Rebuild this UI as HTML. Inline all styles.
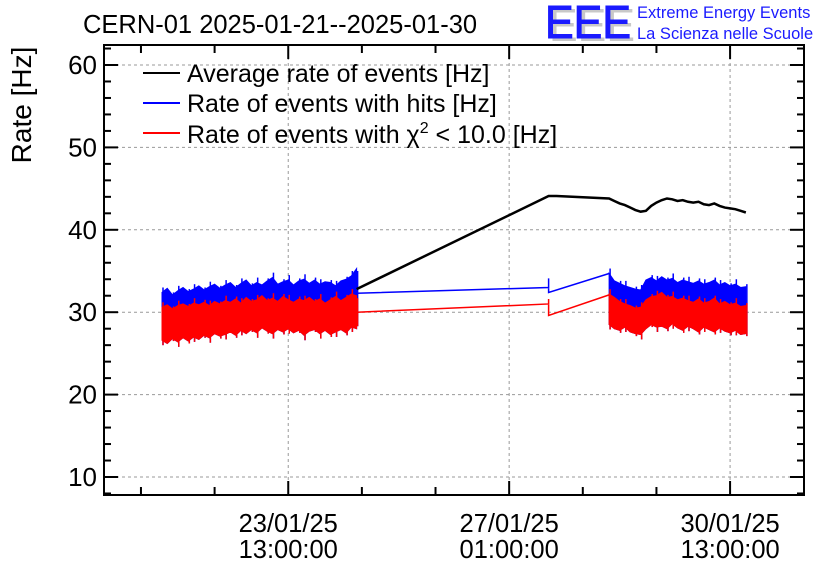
<!DOCTYPE html>
<html><head><meta charset="utf-8"><style>
body{margin:0;background:#fff;}
svg{display:block;font-family:"Liberation Sans",sans-serif;}
</style></head><body>
<svg id="chart" width="836" height="572" viewBox="0 0 836 572" xmlns="http://www.w3.org/2000/svg">
<text x="83" y="33" font-size="25.5" fill="#000">CERN-01 2025-01-21--2025-01-30</text>
<g>
<text x="549" y="41" font-size="46" fill="#c8c8c8" textLength="86" lengthAdjust="spacingAndGlyphs">EEE</text>
<text x="545" y="38" font-size="46" fill="#1a1aff" textLength="86" lengthAdjust="spacingAndGlyphs" stroke="#1a1aff" stroke-width="1">EEE</text>
<text x="637" y="18" font-size="16.5" fill="#1a1aff">Extreme Energy Events</text>
<text x="637" y="39" font-size="16.5" fill="#1a1aff">La Scienza nelle Scuole</text>
</g>
<text transform="translate(31,105) rotate(-90)" text-anchor="middle" font-size="28">Rate [Hz]</text>
<g id="grid"></g><g id="series"></g><g id="axes"></g>
<g font-size="25">
<g><line x1="143" y1="73" x2="180" y2="73" stroke="#000" stroke-width="2"/><text x="187" y="82">Average rate of events [Hz]</text></g>
<g><line x1="143" y1="103" x2="180" y2="103" stroke="#00f" stroke-width="2"/><text x="187" y="112">Rate of events with hits [Hz]</text></g>
<g><line x1="143" y1="133" x2="180" y2="133" stroke="#f00" stroke-width="2"/><text x="187" y="143">Rate of events with χ<tspan dy="-10" font-size="16">2</tspan><tspan dy="10"> &lt; 10.0 [Hz]</tspan></text></g>
</g>
</svg>
<script>
const band1T=[0,2,4,6,8,10,12,14,16,18,20,22,24,26,28,30,32,34,36,38,40,42,44,46,48,50,52,54,56,58,60,62,64,66,68,70,72,74];
const band1BlueHi=[32.4,32.9,32.1,32.6,33.0,32.5,32.8,33.2,32.7,33.1,33.4,32.9,33.3,33.6,33.0,33.5,33.9,33.2,33.6,33.3,33.8,34.2,33.4,33.7,33.9,33.3,33.8,34.0,33.5,33.9,33.4,33.7,33.6,33.2,33.8,34.0,34.4,35.3];
const band1RedHi=[30.6,30.9,30.4,30.8,31.0,30.7,31.1,30.9,31.2,30.8,31.3,31.0,31.4,31.2,31.6,31.1,31.8,31.3,31.5,32.0,31.4,31.7,31.3,31.9,31.5,31.2,31.6,31.4,31.8,31.3,31.6,31.1,31.5,31.9,31.4,31.8,32.2,32.0];
const band1RedLo=[26.6,26.2,26.8,26.4,26.9,26.5,27.0,26.7,27.2,26.9,27.4,27.1,27.3,27.6,27.2,27.8,27.4,27.9,27.5,28.1,27.7,27.4,27.9,27.6,28.0,27.5,27.8,27.2,27.7,27.9,27.4,27.8,27.3,27.6,27.9,27.5,28.2,28.0];
const band2T=[170,172,174,176,178,180,182,184,186,188,190,192,194,196,198,200,202,204,206,208,210,212,214,216,218,220,222];
const band2BlueHi=[34.7,33.8,33.5,33.2,33.0,32.8,32.7,33.9,34.2,33.8,34.3,33.9,34.1,33.6,33.9,33.7,33.5,33.8,33.4,33.6,33.9,33.3,33.6,33.2,33.4,33.0,33.1];
const band2RedHi=[32.2,31.8,31.3,31.0,30.8,30.5,30.6,31.5,31.9,32.0,32.4,31.8,31.9,31.5,31.7,31.4,31.2,31.6,31.1,31.3,31.7,31.0,31.3,30.9,31.1,30.7,30.8];
const band2RedLo=[28.5,28.0,27.8,28.2,27.6,27.4,27.3,28.0,28.5,28.2,28.3,28.0,28.6,28.1,27.8,28.3,28.0,27.6,28.2,27.9,27.6,28.1,27.7,27.5,27.8,27.3,27.4];
const gapT=[74,147,147,147,170];
const gapBlue=[32.3,33.0,34.1,32.4,34.7];
const gapRed=[30.0,31.0,31.6,29.6,32.1];
const avgT=[74,147,150,170,172,174,176,178,180,182,184,186,188,190,192,194,196,198,200,202,204,206,208,210,212,214,216,218,220,222];
const avgRate=[32.8,44.1,44.1,43.8,43.5,43.2,43.0,42.7,42.4,42.2,42.3,42.9,43.3,43.6,43.8,43.7,43.5,43.6,43.4,43.3,43.4,43.1,43.0,43.2,42.9,42.7,42.6,42.5,42.3,42.1];
const yTicks=[10,20,30,40,50,60];
const xTickT=[48,132,216];
const xTickLabels=[["23/01/25","13:00:00"],["27/01/25","01:00:00"],["30/01/25","13:00:00"]];

const NS="http://www.w3.org/2000/svg";
const L=104,R=804,T=45,B=495;
const x=t=>162+t*2.63;
const y=v=>477-(v-10)*8.24;
function mk(tag,attrs,parent){const e=document.createElementNS(NS,tag);for(const k in attrs)e.setAttribute(k,attrs[k]);parent.appendChild(e);return e;}
const grid=document.getElementById('grid'),series=document.getElementById('series'),axes=document.getElementById('axes');
yTicks.forEach(v=>{const g=mk('line',{x1:L,x2:R,y1:y(v),y2:y(v),stroke:'#999','stroke-dasharray':'3,3','stroke-width':1},grid);

});
xTickT.forEach(t=>{const g=mk('line',{x1:x(t),x2:x(t),y1:T,y2:B,stroke:'#999','stroke-dasharray':'3,3','stroke-width':1},grid);

});
function band(ts,hi,lo,color,name){
 const g=mk('g',{},series);
 
 
 let pts=ts.map((t,i)=>x(t)+','+y(hi[i])).concat(ts.map((t,i)=>x(t)+','+y(lo[i])).reverse());
 mk('polygon',{points:pts.join(' '),fill:color,stroke:color,'stroke-width':1},g);
 ts.forEach((t,i)=>{
  const sp=(i%3===0)?0.6:(i%3===1?-0.3:0.3);
  mk('line',{x1:x(t)+1,x2:x(t)+1,y1:y(hi[i]+sp),y2:y(lo[i]-sp),stroke:color,'stroke-width':1.5},g);
 });
}
function line(ts,vs,color,name,w){
 const p=mk('polyline',{points:ts.map((t,i)=>x(t)+','+y(vs[i])).join(' '),fill:'none',stroke:color,'stroke-width':w||1.5},series);
 
 
}
band(band1T,band1BlueHi,band1RedLo,'#0000ff','hits-band-1');
band(band2T,band2BlueHi,band2RedLo,'#0000ff','hits-band-2');
band(band1T,band1RedHi,band1RedLo,'#ff0000','chi2-band-1');
band(band2T,band2RedHi,band2RedLo,'#ff0000','chi2-band-2');
line(gapT,gapBlue,'#0000ff','hits-gap-line');
line(gapT,gapRed,'#ff0000','chi2-gap-line');
line(avgT,avgRate,'#000','average-rate-line',2.5);
const fr=mk('rect',{x:L,y:T,width:R-L,height:B-T,fill:'none',stroke:'#000','stroke-width':2},axes);


for(let v=8;v<=62;v+=2){const maj=v%10===0;const len=maj?14:7;
 mk('line',{x1:L,x2:L+len,y1:y(v),y2:y(v),stroke:'#000','stroke-width':2},axes);
 mk('line',{x1:R,x2:R-len,y1:y(v),y2:y(v),stroke:'#000','stroke-width':2},axes);}
yTicks.forEach(v=>{const tx=mk('text',{x:L-7,y:y(v)+9,'text-anchor':'end','font-size':26},axes);tx.textContent=v;

});
for(let t=-8;t<=240;t+=28){const maj=xTickT.includes(t);const len=maj?14:8;
 mk('line',{x1:x(t),x2:x(t),y1:B,y2:B-len,stroke:'#000','stroke-width':2},axes);
 mk('line',{x1:x(t),x2:x(t),y1:T,y2:T+len,stroke:'#000','stroke-width':2},axes);}
xTickT.forEach((t,i)=>{const tx=mk('text',{x:x(t),y:532,'text-anchor':'middle','font-size':25.5},axes);
 
 
 mk('tspan',{x:x(t),dy:0},tx).textContent=xTickLabels[i][0];
 mk('tspan',{x:x(t),dy:26},tx).textContent=xTickLabels[i][1];});
</script>
</body></html>
